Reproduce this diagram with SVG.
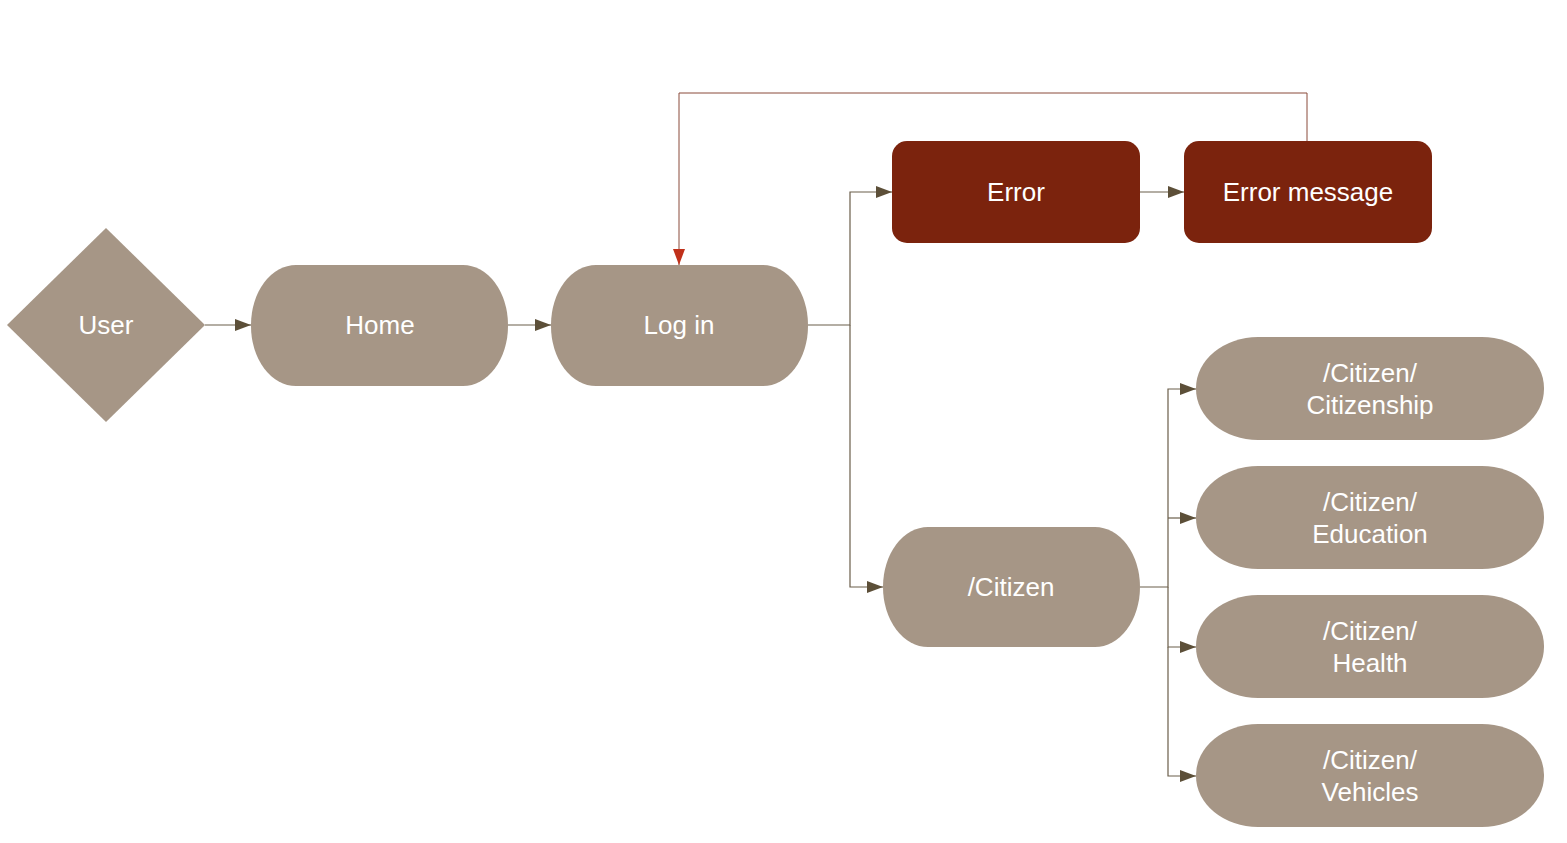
<svg xmlns="http://www.w3.org/2000/svg" width="1567" height="843" viewBox="0 0 1567 843">
<defs>
<marker id="ah" viewBox="0 0 16 12" refX="16" refY="6" markerWidth="16" markerHeight="12" markerUnits="userSpaceOnUse" orient="auto"><path d="M0,0 L16,6 L0,12 Z" fill="#5c4f38"/></marker>
<marker id="ahr" viewBox="0 0 16 12" refX="16" refY="6" markerWidth="16" markerHeight="12" markerUnits="userSpaceOnUse" orient="auto"><path d="M0,0 L16,6 L0,12 Z" fill="#c0301a"/></marker>
</defs>
<style>
.n{fill:#a69686}
.e{fill:#7b230d}
.t{font-family:"Liberation Sans",Arial,sans-serif;font-size:26px;fill:#ffffff;text-anchor:middle}
.c{fill:none;stroke:#6b5e4a;stroke-width:1.2}
.cr{fill:none;stroke:#8a4a3a;stroke-width:1}
</style>
<rect width="1567" height="843" fill="#ffffff"/>
<g id="connectors">
<path class="c" d="M205,325 H251" marker-end="url(#ah)"/>
<path class="c" d="M508,325 H551" marker-end="url(#ah)"/>
<path class="c" d="M808,325 H850 V192 H892" marker-end="url(#ah)"/>
<path class="c" d="M850,325 V587 H883" marker-end="url(#ah)"/>
<path class="c" d="M1140,192 H1184" marker-end="url(#ah)"/>
<path class="cr" d="M1307,141 V93 H679 V265" marker-end="url(#ahr)"/>
<path class="c" d="M1140,587 H1168 V389 H1196" marker-end="url(#ah)"/>
<path class="c" d="M1168,518 H1196" marker-end="url(#ah)"/>
<path class="c" d="M1168,587 V647 H1196" marker-end="url(#ah)"/>
<path class="c" d="M1168,647 V776 H1196" marker-end="url(#ah)"/>
</g>
<g id="user"><polygon class="n" points="106,228 205,325 106,422 7,325"/><text class="t" x="106" y="334">User</text></g>
<g id="home"><rect class="n" x="251" y="265" width="257" height="121" rx="45" ry="60"/><text class="t" x="380" y="334">Home</text></g>
<g id="login"><rect class="n" x="551" y="265" width="257" height="121" rx="45" ry="60"/><text class="t" x="679" y="334">Log in</text></g>
<g id="error"><rect class="e" x="892" y="141" width="248" height="102" rx="15" ry="15"/><text class="t" x="1016" y="201">Error</text></g>
<g id="errormsg"><rect class="e" x="1184" y="141" width="248" height="102" rx="15" ry="15"/><text class="t" x="1308" y="201">Error message</text></g>
<g id="citizen"><rect class="n" x="883" y="527" width="257" height="120" rx="45" ry="60"/><text class="t" x="1011" y="596">/Citizen</text></g>
<g id="citizenship"><rect class="n" x="1196" y="337" width="348" height="103" rx="62" ry="51"/><text class="t" x="1370" y="382">/Citizen/</text><text class="t" x="1370" y="414">Citizenship</text></g>
<g id="education"><rect class="n" x="1196" y="466" width="348" height="103" rx="62" ry="51"/><text class="t" x="1370" y="511">/Citizen/</text><text class="t" x="1370" y="543">Education</text></g>
<g id="health"><rect class="n" x="1196" y="595" width="348" height="103" rx="62" ry="51"/><text class="t" x="1370" y="640">/Citizen/</text><text class="t" x="1370" y="672">Health</text></g>
<g id="vehicles"><rect class="n" x="1196" y="724" width="348" height="103" rx="62" ry="51"/><text class="t" x="1370" y="769">/Citizen/</text><text class="t" x="1370" y="801">Vehicles</text></g>
</svg>
